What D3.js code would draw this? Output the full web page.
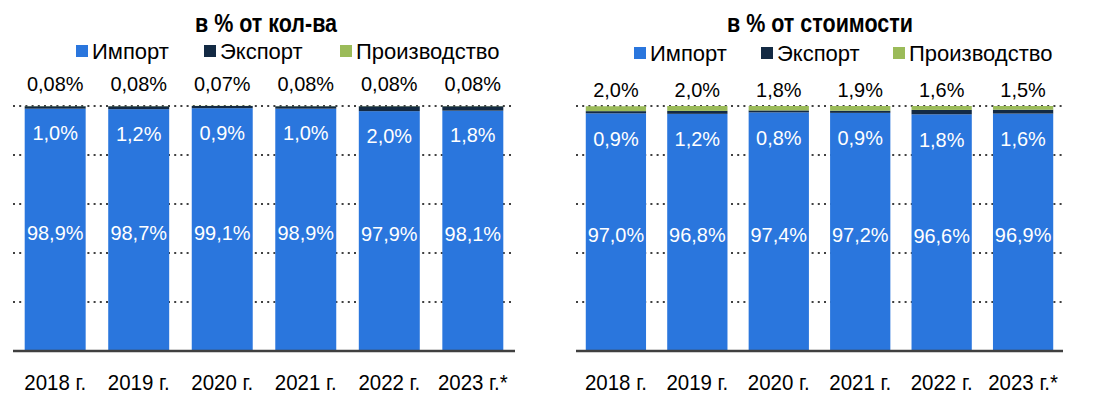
<!DOCTYPE html>
<html>
<head>
<meta charset="utf-8">
<script src="https://cdn.jsdelivr.net/npm/d3@7"></script>
<style>
  body { margin: 0; background: #fff; }
  svg text { font-family: "Liberation Sans", Arial, sans-serif; }
</style>
</head>
<body>
<svg id="chart" width="1105" height="409"></svg>
<script>
let years = ['2018 г.', '2019 г.', '2020 г.', '2021 г.', '2022 г.', '2023 г.*'];
let seriesNames = ['Импорт', 'Экспорт', 'Производство'];

// в % от кол-ва
let qtyImport = [98.9, 98.7, 99.1, 98.9, 97.9, 98.1];
let qtyExport = [1.0, 1.2, 0.9, 1.0, 2.0, 1.8];
let qtyProd = [0.08, 0.08, 0.07, 0.08, 0.08, 0.08];

// в % от стоимости
let costImport = [97.0, 96.8, 97.4, 97.2, 96.6, 96.9];
let costExport = [0.9, 1.2, 0.8, 0.9, 1.8, 1.6];
let costProd = [2.0, 2.0, 1.8, 1.9, 1.6, 1.5];

let yTicks = [0, 20, 40, 60, 80, 100];
let colors = ['#2a76dd', '#132a44', '#9bbb59'];

let svg = d3.select('#chart');

function fmt(v) {
    let s = v < 0.1 ? v.toFixed(2) : v.toFixed(1);
    return s.replace('.', ',') + '%';
}

function drawChart(opt) {
    let g = svg.append('g');
    let x = d3.scaleBand().domain(years).range([opt.x0, opt.x1])
        .paddingInner(opt.padIn).paddingOuter(opt.padOut);
    let y = d3.scaleLinear().domain([0, 100]).range([351, 106]);

    // dotted gridlines
    g.selectAll('line.grid')
        .data(yTicks.slice(1))
        .enter()
        .append('line')
        .attr('x1', opt.x0).attr('x2', opt.x1)
        .attr('y1', d => y(d)).attr('y2', d => y(d))
        .attr('stroke', '#404040')
        .attr('stroke-width', 2)
        .attr('stroke-dasharray', '2,4.2');

    let rows = years.map((yr, i) => ({ year: yr, imp: opt.imp[i], exp: opt.exp[i], prod: opt.prod[i] }));
    let stack = d3.stack().keys(['imp', 'exp', 'prod'])(rows);

    g.selectAll('g.layer')
        .data(stack)
        .enter()
        .append('g')
        .attr('fill', (d, i) => colors[i])
        .selectAll('rect')
        .data(d => d)
        .enter()
        .append('rect')
        .attr('x', d => x(d.data.year))
        .attr('width', x.bandwidth())
        .attr('y', d => y(d[1]))
        .attr('height', d => y(d[0]) - y(d[1]));

    // baseline
    g.append('line')
        .attr('x1', opt.x0).attr('x2', opt.x1)
        .attr('y1', y(0)).attr('y2', y(0))
        .attr('stroke', '#404040')
        .attr('stroke-width', 2.5);

    let cx = d => x(d.year) + x.bandwidth() / 2;

    // text in the original is slightly condensed, hence scale(sx,1)
    function labels(cls, fx, fy, fill, size, sx, txt) {
        g.selectAll('text.' + cls)
            .data(rows)
            .enter()
            .append('text')
            .attr('transform', d => `translate(${fx(d)},${fy(d)}) scale(${sx},1)`)
            .attr('text-anchor', 'middle')
            .attr('fill', fill)
            .style('font-size', size)
            .text(txt);
    }

    labels('imp', cx, d => (y(0) + y(d.imp)) / 2 + 10, '#fff', '21px', 0.95, d => fmt(d.imp));
    labels('exp', cx, d => y(d.imp) + opt.expDy, '#fff', '21px', 0.95, d => fmt(d.exp));
    labels('prod', cx, d => opt.prodY, '#000', '21px', 0.95, d => fmt(d.prod));
    labels('year', cx, d => 390, '#000', '22px', 0.93, d => d.year);

    // title
    g.append('text')
        .attr('transform', `translate(${opt.titleX},32) scale(0.86,1)`)
        .attr('text-anchor', 'middle')
        .style('font-weight', 'bold')
        .style('font-size', '25px')
        .text(opt.title);

    // legend
    let leg = g.selectAll('g.leg')
        .data(seriesNames)
        .enter()
        .append('g')
        .attr('transform', (d, i) => `translate(${opt.legX[i]}, ${opt.legY})`);
    leg.append('rect')
        .attr('x', 0).attr('y', -6)
        .attr('width', 12).attr('height', 12)
        .attr('fill', (d, i) => colors[i]);
    leg.append('text')
        .attr('x', 16)
        .attr('y', 8)
        .style('font-size', '22px')
        .text(d => d);
}

drawChart({
    title: 'в % от кол-ва', titleX: 266,
    x0: 13, x1: 515, padIn: 0.27, padOut: 0.14,
    imp: qtyImport, exp: qtyExport, prod: qtyProd,
    expDy: 31.5, prodY: 91,
    legX: [76, 204, 340], legY: 51
});

drawChart({
    title: 'в % от стоимости', titleX: 820,
    x0: 576, x1: 1063, padIn: 0.26, padOut: 0.12,
    imp: costImport, exp: costExport, prod: costProd,
    expDy: 32.5, prodY: 97,
    legX: [634, 761, 893], legY: 53
});
</script>
</body>
</html>
